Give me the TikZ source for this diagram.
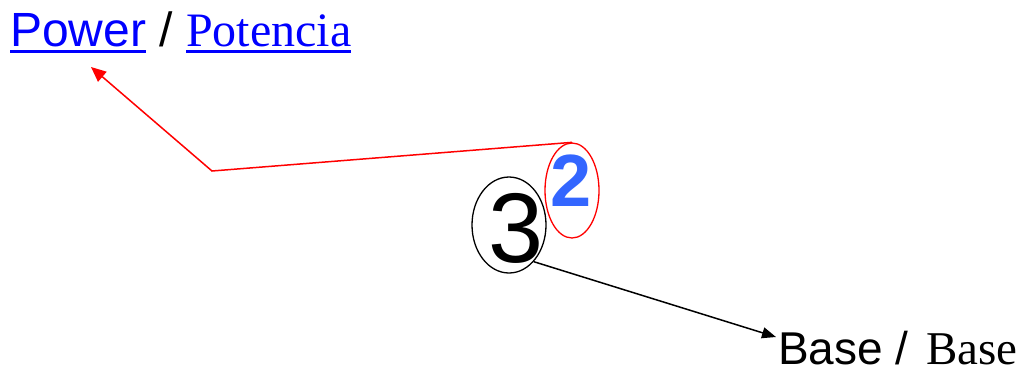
\documentclass[tikz,border=0pt]{standalone}
\usepackage{fontspec}
\setmainfont{Liberation Serif}
\newfontfamily\arialf{Liberation Sans}
\newfontfamily\timesf{Liberation Serif}
\usetikzlibrary{arrows.meta,shapes.geometric}
\definecolor{linkblue}{RGB}{0,0,255}
\definecolor{exblue}{RGB}{51,102,255}
\tikzset{
  txt/.style={inner sep=0pt, outer sep=0pt, anchor=base west},
  ul/.style={linkblue, line width=3pt},
  oval/.style={ellipse, draw, line width=1.3pt, inner sep=0pt},
  redarrow/.style={red, line width=1.5pt, -{Triangle[length=15pt,width=13pt]}},
  blackarrow/.style={black, line width=1.5pt, -{Triangle[length=14pt,width=11pt]}}
}
\begin{document}
\begin{tikzpicture}[x=1pt,y=-1pt]
\useasboundingbox (0,0) rectangle (1024,370);
% top labels
\node[txt, text=linkblue] (pow) at (10,46.5) {\arialf\fontsize{48}{56}\selectfont Power};
\node[txt] (slash) at (159.3,46.5) {\arialf\fontsize{48}{56}\selectfont /};
\node[txt, text=linkblue] (pot) at (186,46.5) {\timesf\fontsize{48}{56}\selectfont Potencia};
\draw[ul] ([yshift=-5.3pt]pow.base west) -- ([yshift=-5.3pt]pow.base east);
\draw[ul] ([yshift=-5.3pt]pot.base west) -- ([yshift=-5.3pt]pot.base east);
% exponent and base
\node[oval, red, minimum width=54pt, minimum height=95pt] (e2) at (572,190.5) {};
\node[inner sep=0pt, text=exblue] (two) at (571,181) {\arialf\bfseries\fontsize{74}{80}\selectfont 2};
\node[oval, black, minimum width=74pt, minimum height=96pt] (e3) at (509,225) {};
\node[inner sep=0pt] (three) at (516,228) {\arialf\fontsize{99}{110}\selectfont 3};
% bottom label
\node[txt] (basesans) at (778,364) {\arialf\fontsize{46}{52}\selectfont Base /};
\node[txt] (baseserif) at (926,364) {\timesf\fontsize{47}{52}\selectfont Base};
% connectors
\coordinate (bend) at (212,171);
\coordinate (powtip) at (91,67);
\coordinate (basetip) at (776,337);
\draw[redarrow] (e2.north) -- (bend) -- (powtip);
\draw[blackarrow] (e3.-56) -- (basetip);
\end{tikzpicture}
\end{document}
